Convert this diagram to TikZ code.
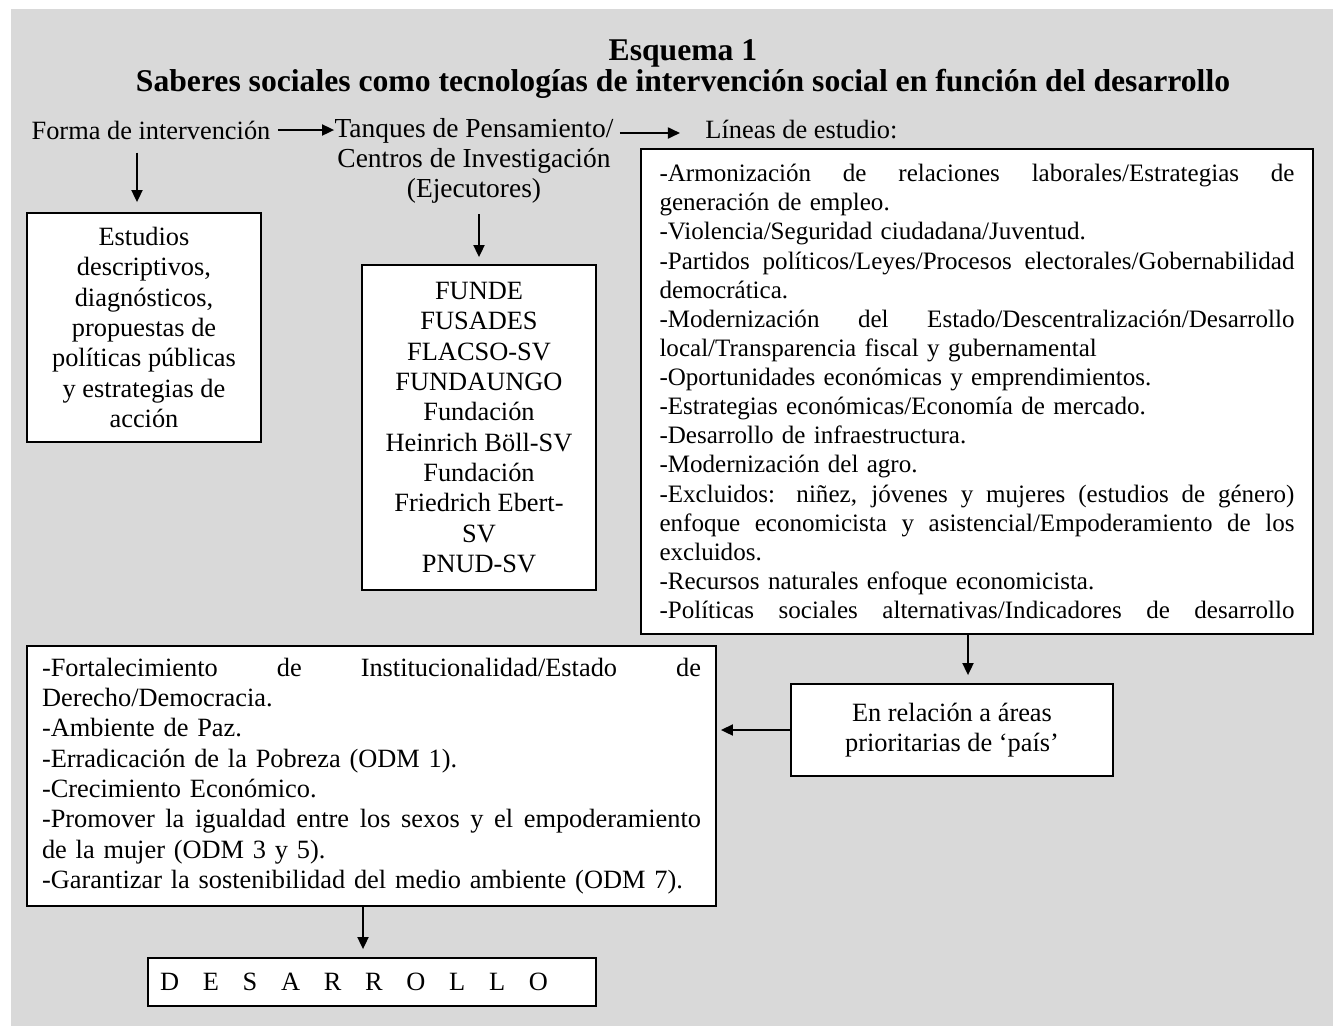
\documentclass[tikz,border=0pt]{standalone}
\usepackage{fontspec}
\setmainfont{Liberation Serif}
\usepackage{xcolor}
\usetikzlibrary{arrows.meta, positioning, calc}
\definecolor{panelgray}{RGB}{217, 217, 217}
\newlength\px
\setlength\px{0.455pt}
\newcommand{\fullline}[2][635\px]{\makebox[#1][s]{\spaceskip=0pt \xspaceskip=0pt #2}}

\begin{document}
\begin{tikzpicture}[x=\px, y=-\px,
    font=\fontsize{12}{13.8}\selectfont,
    plain/.style={inner sep=0pt},
    box/.style={draw=black, fill=white, line width=0.8pt, inner sep=0pt},
    arr/.style={-{Triangle[length=5.5pt, width=5pt]}, line width=0.9pt}]
  % gray panel
  \useasboundingbox (0,0) rectangle (1333,1026);
  \fill[panelgray] (11,9) rectangle (1333,1026);
  \node[align=center, font=\fontsize{14.4}{13.8}\selectfont\bfseries] (titulo) at (683,69)
    {Esquema 1\\Saberes sociales como tecnologías de intervención social en función del desarrollo};

  % first row of labels
  \node[plain] (forma) at (151,130) {Forma de intervención};
  \node[plain, align=center, font=\fontsize{12.5}{13.8}\selectfont] (tanques) at (474,161)
    {Tanques de Pensamiento/\\Centros de Investigación\\(Ejecutores)};
  \node[plain, anchor=west] (lineas) at (705,130) {Líneas de estudio:};

  % boxes
  \node[box, minimum width=234*\px, minimum height=229*\px, align=center] (estudios) at (144,327.5)
    {Estudios\\descriptivos,\\diagnósticos,\\propuestas de\\políticas públicas\\y estrategias de\\acción};
  \node[box, minimum width=234*\px, minimum height=325*\px, align=center] (actores) at (479,427.5)
    {FUNDE\\FUSADES\\FLACSO-SV\\FUNDAUNGO\\Fundación\\Heinrich Böll-SV\\Fundación\\Friedrich Ebert-\\SV\\PNUD-SV};
  \node[box, minimum height=485*\px, text width=635*\px, inner xsep=18.5*\px, align=left,
        font=\fontsize{11.4}{13.25}\selectfont] (lbox) at (977,391.5)
    {\fullline{-Armonización de relaciones laborales/Estrategias de}\\
     generación de empleo.\\
     -Violencia/Seguridad ciudadana/Juventud.\\
     \fullline{-Partidos políticos/Leyes/Procesos electorales/Gobernabilidad}\\
     democrática.\\
     \fullline{-Modernización del Estado/Descentralización/Desarrollo}\\
     local/Transparencia fiscal y gubernamental\\
     -Oportunidades económicas y emprendimientos.\\
     -Estrategias económicas/Economía de mercado.\\
     -Desarrollo de infraestructura.\\
     -Modernización del agro.\\
     \fullline{-Excluidos: niñez, jóvenes y mujeres (estudios de género)}\\
     \fullline{enfoque economicista y asistencial/Empoderamiento de los}\\
     excluidos.\\
     -Recursos naturales enfoque economicista.\\
     \fullline{-Políticas sociales alternativas/Indicadores de desarrollo}};
  \node[box, minimum width=322*\px, minimum height=92*\px, align=center] (enrel) at (952,730)
    {En relación a áreas\\prioritarias de ‘país’};
  \node[box, minimum height=260*\px, text width=659*\px, inner xsep=15*\px, align=left] (odm) at (371.5,776)
    {\fullline[659\px]{-Fortalecimiento de Institucionalidad/Estado de}\\
     Derecho/Democracia.\\
     -Ambiente de Paz.\\
     -Erradicación de la Pobreza (ODM 1).\\
     -Crecimiento Económico.\\
     \fullline[659\px]{-Promover la igualdad entre los sexos y el empoderamiento}\\
     de la mujer (ODM 3 y 5).\\
     -Garantizar la sostenibilidad del medio ambiente (ODM 7).};
  \node[box, minimum height=48*\px, inner xsep=12*\px] (desa) at (372,982)
    {\makebox[424\px][l]{\makebox[388\px][s]{D E S A R R O L L O}}};

  % connectors
  \draw[arr, shorten <=7*\px] (forma.east) -- (forma.east -| tanques.west);
  \draw[arr, shorten <=6*\px, shorten >=25*\px] ($(lineas.west -| tanques.east)+(0,3)$) -- ($(lineas.west)+(0,3)$);
  \draw[arr, shorten <=13*\px, shorten >=10*\px] ($(forma.south)+(-14,0)$) -- ($(estudios.north)+(-7,0)$);
  \draw[arr, shorten <=10*\px, shorten >=7*\px] (tanques.south -| actores.north) -- (actores.north);
  \coordinate (bajada) at ($(enrel.north)+(16,0)$);
  \draw[arr, shorten >=8*\px] (bajada |- lbox.south) -- (bajada);
  \draw[arr, shorten >=4*\px] (enrel.west) -- (enrel.west -| odm.east);
  \coordinate (caida) at ($(desa.north)+(-9,0)$);
  \draw[arr, shorten >=8*\px] (caida |- odm.south) -- (caida);
\end{tikzpicture}
\end{document}
